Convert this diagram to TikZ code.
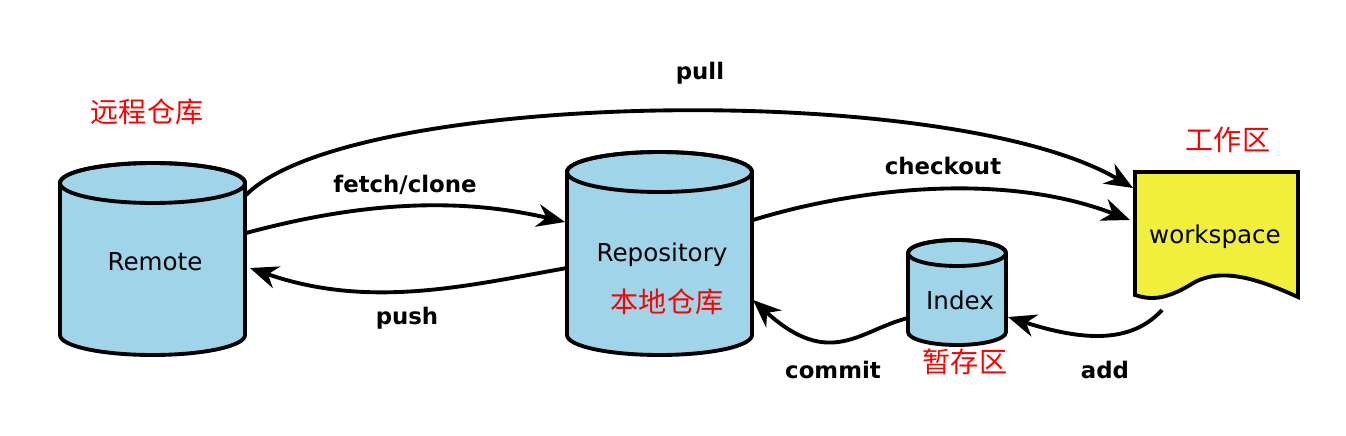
\documentclass[tikz,border=0pt]{standalone}
\usepackage{fontspec}
\setmainfont{DejaVu Sans}
\newfontfamily\cjk{Noto Sans CJK SC}
\usetikzlibrary{arrows.meta}
\definecolor{cyl}{RGB}{160,212,232}
\definecolor{ws}{RGB}{240,240,60}
\newcommand{\mycyl}[5]{% cx, rx, ytop, ybot, ry
  \draw[line width=2.2pt,fill=cyl] ({#1-#2},#3) -- ({#1-#2},#4)
    arc[start angle=180,end angle=0,x radius=#2,y radius=#5] -- ({#1+#2},#3)
    arc[start angle=0,end angle=-180,x radius=#2,y radius=#5] -- cycle;
  \draw[line width=2.2pt] (#1,#3) ellipse[x radius=#2,y radius=#5];}
\begin{document}
\begin{tikzpicture}[x=0.02cm,y=-0.02cm,
  arr/.style={line width=2.2pt,-{Stealth[length=16pt,width=13pt]}},
  txt/.style={font=\fontsize{14}{16}\selectfont},
  lbl/.style={font=\bfseries\fontsize{13}{15}\selectfont},
  red/.style={text=red,font=\cjk\fontsize{16}{18}\selectfont}]
\useasboundingbox (0,0) rectangle (1346,436);
\mycyl{152.5}{92.5}{183}{335}{20}
\mycyl{659.5}{92.5}{172}{335}{20}
\mycyl{957}{49}{253}{332}{13}
\node[minimum width=3.7cm,minimum height=3.5cm] (remote) at (152,259) {};
\node[txt] (rt) at (155,262) {Remote};
\node[minimum width=3.7cm,minimum height=3.6cm] (repo) at (660,252) {};
\node[txt] (rpt) at (662,255) {Repository};
\node[red] (rl) at (667,302) {本地仓库};
\node[minimum width=1.96cm,minimum height=1.8cm] (index) at (957,292) {};
\node[txt] (it) at (960,300) {Index};
\node[red] (il) at (965,362) {暂存区};
\node[red] (reml) at (147,112) {远程仓库};
\node[red] (wl) at (1228,140) {工作区};
\draw[line width=2.2pt,fill=ws] (1135,172) -- (1298,172) -- (1298,297)
  .. controls (1260,280) and (1220,265) .. (1190,285)
  .. controls (1165,300) and (1150,300) .. (1135,295) -- cycle;
\node[minimum width=3.2cm,minimum height=2.4cm] (ws) at (1216,235) {};
\node[txt] (wt) at (1215,237) {workspace};
\coordinate (pullS) at (246,195);
\coordinate (pullE) at (1133,188);
\draw[arr] (pullS) .. controls (350,90) and (950,80) .. (pullE);
\node[lbl] (pl) at (700,73) {pull};
\coordinate (fS) at (246,233);
\coordinate (fE) at (565,222);
\draw[arr] (fS) .. controls (350,205) and (450,195) .. (fE);
\node[lbl] (fl) at (405,185) {fetch/clone};
\coordinate (pS) at (567,268);
\coordinate (pE) at (250,268);
\draw[arr] (pS) .. controls (470,285) and (370,310) .. (pE);
\node[lbl] (psl) at (407,318) {push};
\coordinate (cS) at (753,220);
\coordinate (cE) at (1130,220);
\draw[arr] (cS) .. controls (850,190) and (1000,170) .. (cE);
\node[lbl] (cl) at (943,166) {checkout};
\coordinate (mS) at (908,318);
\coordinate (mE) at (753,300);
\draw[arr] (mS) .. controls (860,330) and (830,370) .. (mE);
\node[lbl] (ml) at (833,370) {commit};
\coordinate (aS) at (1162,310);
\coordinate (aE) at (1008,317);
\draw[arr] (aS) .. controls (1130,345) and (1080,340) .. (aE);
\node[lbl] (al) at (1105,370) {add};
\end{tikzpicture}
\end{document}
